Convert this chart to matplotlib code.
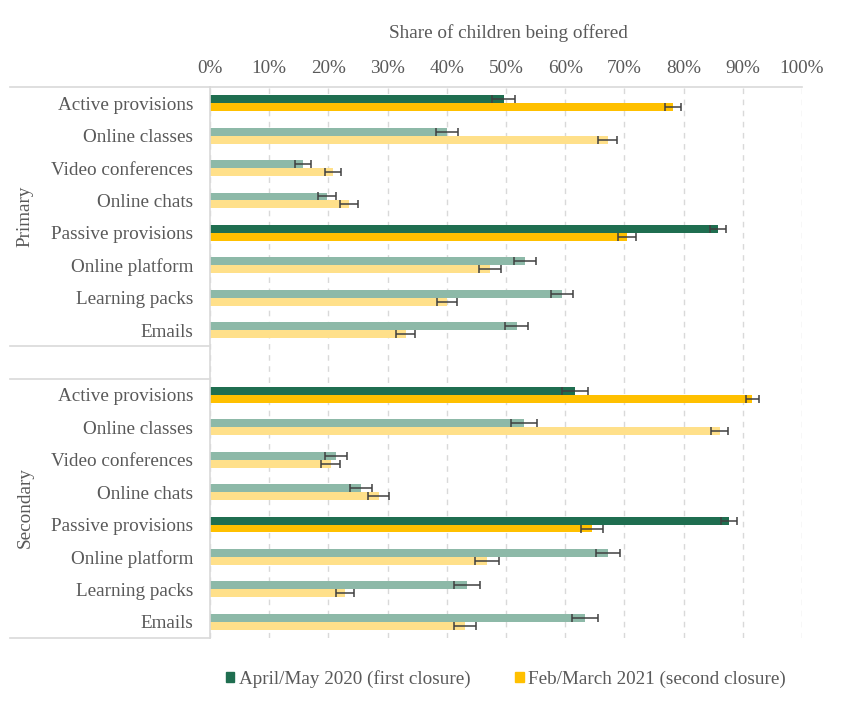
import matplotlib
matplotlib.use("Agg")
import matplotlib.pyplot as plt
from matplotlib.lines import Line2D
import numpy as np

# categories (top to bottom), with one empty slot between school types
items = ["Active provisions", "Online classes", "Video conferences", "Online chats",
         "Passive provisions", "Online platform", "Learning packs", "Emails"]
groups = ["Primary", "Secondary"]

# shares in % (April/May 2020 first closure)
first_primary = [49.6, 40.0, 15.7, 19.8, 85.8, 53.2, 59.5, 51.8]
first_secondary = [61.7, 53.0, 21.3, 25.5, 87.7, 67.2, 43.4, 63.3]
# shares in % (Feb/March 2021 second closure)
second_primary = [78.2, 67.2, 20.8, 23.5, 70.5, 47.3, 40.0, 33.1]
second_secondary = [91.6, 86.1, 20.4, 28.5, 64.5, 46.8, 22.8, 43.1]
# half-widths of the error bars in %
err_first_primary = [1.9, 1.9, 1.4, 1.5, 1.4, 1.9, 1.9, 1.9]
err_first_secondary = [2.2, 2.2, 1.9, 1.9, 1.4, 2.0, 2.2, 2.2]
err_second_primary = [1.4, 1.6, 1.4, 1.5, 1.5, 1.8, 1.7, 1.6]
err_second_secondary = [1.1, 1.4, 1.6, 1.8, 1.9, 2.0, 1.6, 1.9]
summary = [True, False, False, False, True, False, False, False]

dark_green = "#1f6e50"
light_green = "#8db9a8"
dark_yellow = "#ffc000"
light_yellow = "#ffe08a"
grey_text = "#595959"
line_grey = "#d9d9d9"
fs = 13.8

plt.rcParams["font.family"] = ["Liberation Serif", "DejaVu Serif"]

W, H = 848, 708
fig = plt.figure(figsize=(W / 100, H / 100), dpi=100)
top_px, bot_px, left_px, right_px = 87, 638, 210, 802
ax = fig.add_axes([left_px / W, 1 - bot_px / H, (right_px - left_px) / W, (bot_px - top_px) / H])

n = len(items)
pos_primary = np.arange(n)
pos_secondary = np.arange(n) + n + 1
bh = 0.245

for pos, f, s, ef, es in [(pos_primary, first_primary, second_primary, err_first_primary, err_second_primary),
                          (pos_secondary, first_secondary, second_secondary, err_first_secondary, err_second_secondary)]:
    cg = [dark_green if k else light_green for k in summary]
    cy = [dark_yellow if k else light_yellow for k in summary]
    ax.barh(pos - bh / 2, f, height=bh, color=cg, zorder=2)
    ax.barh(pos + bh / 2, s, height=bh, color=cy, zorder=2)
    ax.errorbar(f, pos - bh / 2, xerr=ef, fmt="none", ecolor="#404040", elinewidth=1.1,
                capsize=3, capthick=1.1, zorder=3)
    ax.errorbar(s, pos + bh / 2, xerr=es, fmt="none", ecolor="#404040", elinewidth=1.1,
                capsize=3, capthick=1.1, zorder=3)

ax.set_xlim(0, 100)
ax.set_ylim(2 * n + 0.5, -0.5)
ax.set_xticks(np.arange(0, 101, 10))
ax.set_xticklabels([f"{v}%" for v in range(0, 101, 10)])
ax.xaxis.tick_top()
ax.tick_params(axis="x", length=0, pad=7.5, labelsize=fs, labelcolor=grey_text)
ax.set_yticks(np.concatenate([pos_primary, pos_secondary]))
ax.set_yticklabels(items + items)
ax.tick_params(axis="y", length=0, pad=12, labelsize=fs, labelcolor=grey_text)
ax.grid(axis="x", color=line_grey, linestyle=(0, (4, 4)), linewidth=1, zorder=0)
ax.set_axisbelow(True)
for side in ["right", "bottom"]:
    ax.spines[side].set_visible(False)
for side in ["top", "left"]:
    ax.spines[side].set_color(line_grey)
    ax.spines[side].set_linewidth(1.2)

# separator lines of the category label area
for y in [87, 346, 379, 638]:
    fig.add_artist(Line2D([10 / W, left_px / W], [1 - y / H, 1 - y / H], color=line_grey, lw=1.2))

fig.text(25 / W, 1 - 216 / H, groups[0], rotation=90, ha="center", va="center",
         fontsize=fs, color=grey_text)
fig.text(25 / W, 1 - 508 / H, groups[1], rotation=90, ha="center", va="center",
         fontsize=fs, color=grey_text)
fig.text(508 / W, 1 - 33 / H, "Share of children being offered", ha="center", va="center",
         fontsize=fs, color=grey_text)

handles = [plt.Rectangle((0, 0), 1, 1, color=dark_green), plt.Rectangle((0, 0), 1, 1, color=dark_yellow)]
fig.legend(handles, ["April/May 2020 (first closure)", "Feb/March 2021 (second closure)"],
           loc="center", bbox_to_anchor=(506 / W, 1 - 679 / H), ncol=2, frameon=False,
           fontsize=fs, labelcolor=grey_text, handlelength=0.45, handleheight=0.45,
           handletextpad=0.25, columnspacing=2.3)

fig.savefig("out.png", dpi=100)
